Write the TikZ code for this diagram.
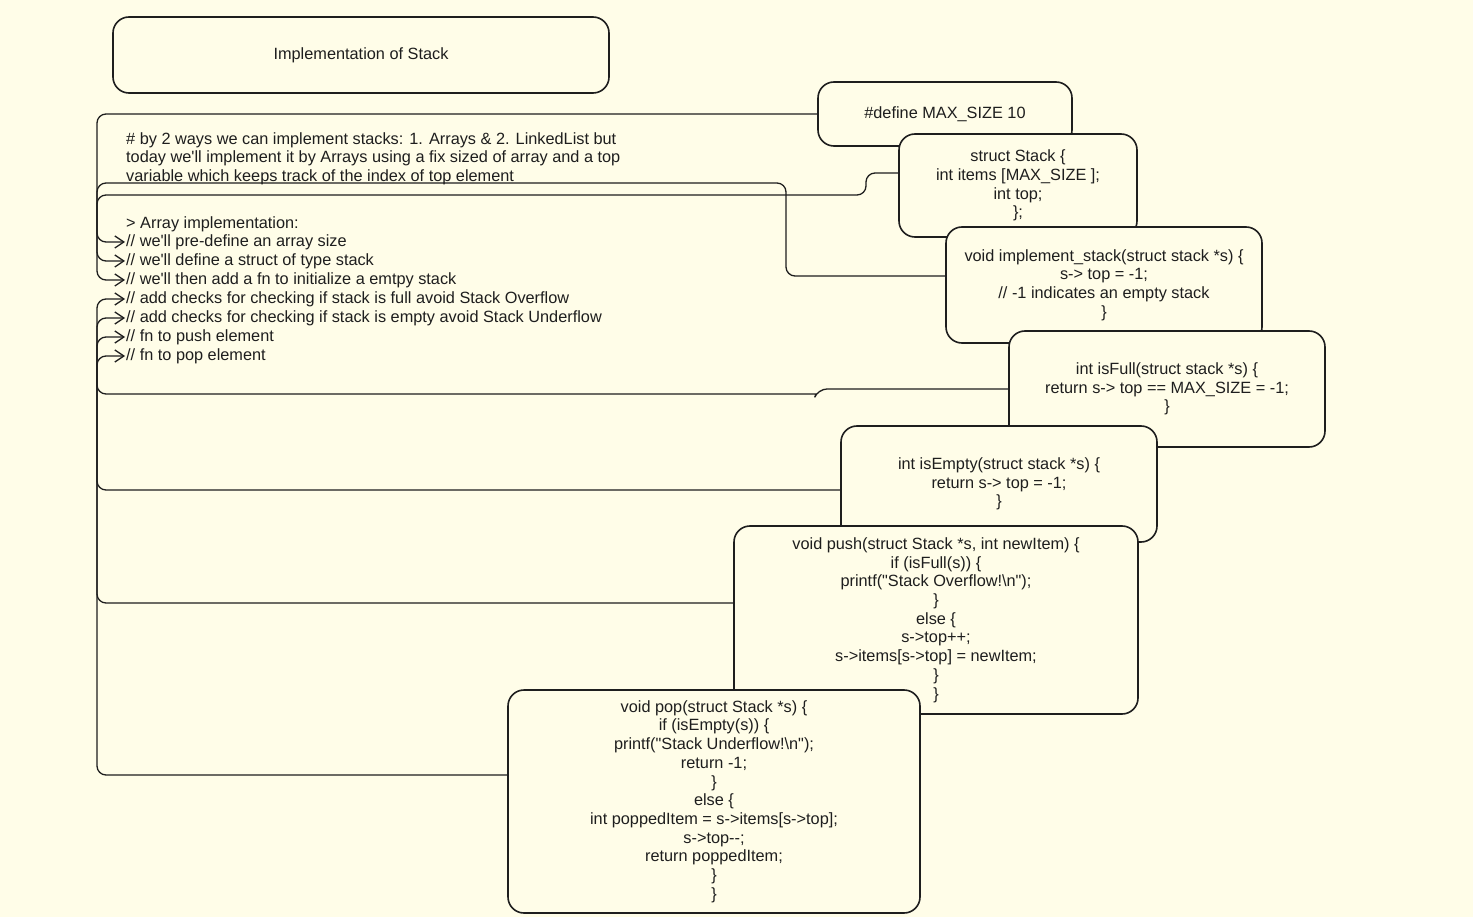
\documentclass[tikz,border=0pt]{standalone}
\usepackage{fontspec}
\setmainfont{Liberation Sans}[Ligatures=TeXOff]
\usetikzlibrary{arrows.meta}
\definecolor{paper}{HTML}{FFFDE8}
\definecolor{ink}{HTML}{1E1E1E}

\begin{document}
\begin{tikzpicture}[x=1pt,y=-1pt,
  every node/.style={font=\fontsize{16.3}{18.7}\selectfont, text=ink},
  card/.style={draw=ink, line width=1.6pt, fill=paper, rounded corners=16pt,
    align=center, inner sep=0pt},
  link/.style={draw=ink, line width=1.3pt, rounded corners=9pt},
  tip/.style={-{Straight Barb[length=9pt,width=12pt,line width=1.3pt]}},
  note/.style={anchor=west, inner sep=1pt, align=left}
]
% page
\fill[paper] (0,0) rectangle (1473,917);
\useasboundingbox (0,0) rectangle (1473,917);

% heading
\node[card, minimum width=496pt, minimum height=76pt] (title) at (361,55)
  {Implementation of Stack};

% explanatory notes
\node[note] (intro) at (125,158.5)
  {\# by 2 ways we can implement stacks: 1. Arrays \& 2. LinkedList but\\
   today we'll implement it by Arrays using a fix sized of array and a top\\
   variable which keeps track of the index of top element};
\node[note] (head) at (125,224) {> Array implementation:};
\node[note] (l1) at (125,242) {// we'll pre-define an array size};
\node[note] (l2) at (125,261) {// we'll define a struct of type stack};
\node[note] (l3) at (125,280) {// we'll then add a fn to initialize a emtpy stack};
\node[note] (l4) at (125,299) {// add checks for checking if stack is full avoid Stack Overflow};
\node[note] (l5) at (125,318) {// add checks for checking if stack is empty avoid Stack Underflow};
\node[note] (l6) at (125,337) {// fn to push element};
\node[note] (l7) at (125,356) {// fn to pop element};

% code cards, later ones overlap earlier ones
\node[card, minimum width=254pt, minimum height=64pt] (def) at (945,114)
  {\#define MAX\_SIZE 10};
\node[card, minimum width=238pt, minimum height=103pt] (struct) at (1018,185.5)
  {struct Stack \{\\ int items [MAX\_SIZE ];\\ int top;\\ \};};
\node[card, minimum width=316pt, minimum height=116pt] (impl) at (1104,285)
  {void implement\_stack(struct stack *s) \{\\ s-> top = -1;\\
   // -1 indicates an empty stack\\ \}};
\node[card, minimum width=316pt, minimum height=116pt] (full) at (1167,389)
  {int isFull(struct stack *s) \{\\ return s-> top == MAX\_SIZE = -1;\\ \}};
\node[card, minimum width=316pt, minimum height=116pt] (empty) at (999,484)
  {int isEmpty(struct stack *s) \{\\ return s-> top = -1;\\ \}};
\node[card, minimum width=404pt, minimum height=188pt] (push) at (936,620)
  {void push(struct Stack *s, int newItem) \{\\ if (isFull(s)) \{\\
   printf("Stack Overflow!\textbackslash n");\\ \}\\ else \{\\ s->top++;\\
   s->items[s->top] = newItem;\\ \}\\ \}};
\node[card, minimum width=412pt, minimum height=223pt] (pop) at (714,801.5)
  {void pop(struct Stack *s) \{\\ if (isEmpty(s)) \{\\
   printf("Stack Underflow!\textbackslash n");\\ return -1;\\ \}\\ else \{\\
   int poppedItem = s->items[s->top];\\ s->top--;\\ return poppedItem;\\ \}\\ \}};

% connectors from each card to its note line
\draw[link,tip] (def.west) -| (97,242) -- (l1.west);
\draw[link,tip] ([yshift=12.5pt]struct.west) -- (866,173) -- (866,195)
  -| (97,261) -- (l2.west);
\draw[link,tip] ([yshift=9pt]impl.west) -| (786,183) -| (97,280) -- (l3.west);
\draw[link,tip] (full.west) -- (818,389) [sharp corners] -- (816,394)
  [rounded corners=9pt] -| (97,299) -- (l4.west);
\draw[link,tip] ([yshift=-6pt]empty.west) -| (97,318) -- (l5.west);
\draw[link,tip] ([yshift=17pt]push.west) -| (97,337) -- (l6.west);
\draw[link,tip] ([yshift=26.5pt]pop.west) -| (97,356) -- (l7.west);
\end{tikzpicture}
\end{document}
